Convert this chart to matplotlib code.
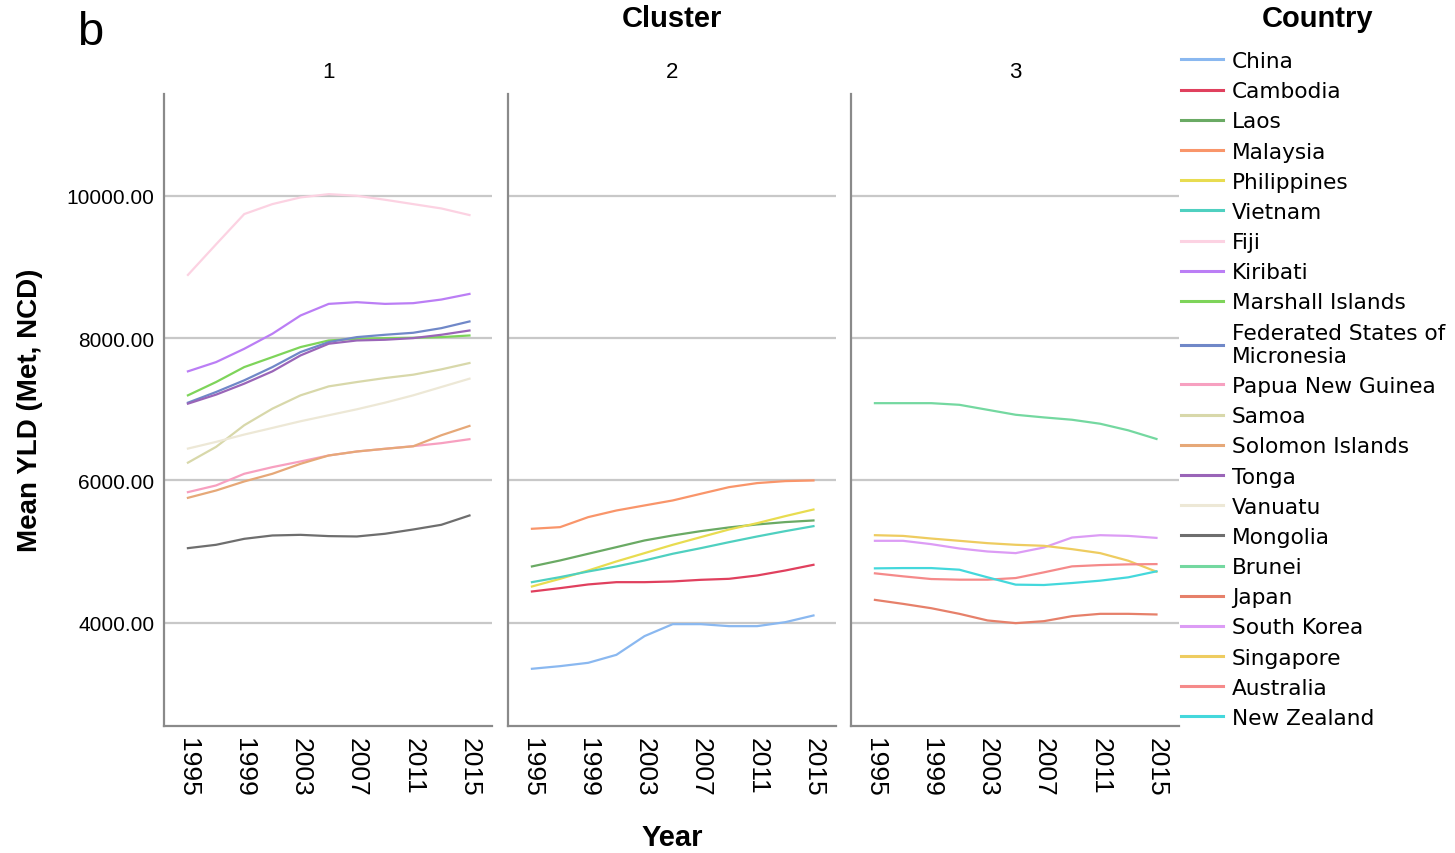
import numpy as np
import matplotlib.pyplot as plt
from matplotlib.lines import Line2D

plt.rcParams['font.family'] = ['Liberation Sans', 'DejaVu Sans']

years = [1995, 1997, 1999, 2001, 2003, 2005, 2007, 2009, 2011, 2013, 2015]

# cluster 1
fiji = [8888, 9318, 9743, 9883, 9977, 10023, 10000, 9944, 9883, 9822, 9729]
kiribati = [7533, 7663, 7850, 8061, 8318, 8481, 8505, 8481, 8491, 8542, 8621]
marshall = [7196, 7383, 7593, 7733, 7874, 7967, 7991, 8000, 8005, 8014, 8037]
micronesia = [7093, 7243, 7407, 7593, 7804, 7944, 8014, 8047, 8075, 8140, 8234]
tonga = [7079, 7206, 7360, 7533, 7757, 7921, 7967, 7977, 8000, 8047, 8107]
samoa = [6250, 6472, 6776, 7009, 7196, 7322, 7383, 7439, 7486, 7561, 7650]
vanuatu = [6448, 6542, 6645, 6738, 6832, 6916, 7000, 7093, 7196, 7313, 7430]
png = [5836, 5930, 6094, 6187, 6267, 6351, 6407, 6445, 6482, 6524, 6580]
solomon = [5756, 5859, 5986, 6094, 6234, 6351, 6407, 6445, 6480, 6635, 6766]
mongolia = [5049, 5096, 5180, 5227, 5236, 5218, 5213, 5251, 5311, 5377, 5508]

# cluster 2
china = [3354, 3391, 3438, 3550, 3813, 3981, 3981, 3953, 3953, 4009, 4103]
cambodia = [4440, 4487, 4539, 4571, 4571, 4581, 4604, 4618, 4665, 4735, 4815]
laos = [4792, 4876, 4970, 5063, 5157, 5227, 5288, 5340, 5382, 5415, 5438]
malaysia = [5321, 5344, 5485, 5578, 5649, 5719, 5813, 5906, 5963, 5991, 6000]
philippines = [4510, 4618, 4735, 4862, 4979, 5096, 5204, 5311, 5400, 5499, 5592]
vietnam = [4571, 4642, 4721, 4792, 4876, 4970, 5049, 5133, 5213, 5288, 5358]

# cluster 3
brunei = [7086, 7086, 7086, 7063, 6993, 6923, 6886, 6853, 6797, 6704, 6583]
japan = [4322, 4266, 4205, 4126, 4033, 3995, 4023, 4093, 4126, 4126, 4117]
south_korea = [5152, 5152, 5105, 5044, 5002, 4979, 5058, 5198, 5231, 5221, 5193]
singapore = [5231, 5221, 5184, 5152, 5119, 5096, 5082, 5035, 4979, 4872, 4718]
australia = [4695, 4653, 4615, 4606, 4606, 4629, 4709, 4793, 4811, 4821, 4825]
new_zealand = [4765, 4769, 4769, 4746, 4639, 4536, 4531, 4559, 4592, 4639, 4723]

# legend order: (name, values, cluster)
countries = [
    ('China', china, 2),
    ('Cambodia', cambodia, 2),
    ('Laos', laos, 2),
    ('Malaysia', malaysia, 2),
    ('Philippines', philippines, 2),
    ('Vietnam', vietnam, 2),
    ('Fiji', fiji, 1),
    ('Kiribati', kiribati, 1),
    ('Marshall Islands', marshall, 1),
    ('Federated States of\nMicronesia', micronesia, 1),
    ('Papua New Guinea', png, 1),
    ('Samoa', samoa, 1),
    ('Solomon Islands', solomon, 1),
    ('Tonga', tonga, 1),
    ('Vanuatu', vanuatu, 1),
    ('Mongolia', mongolia, 1),
    ('Brunei', brunei, 3),
    ('Japan', japan, 3),
    ('South Korea', south_korea, 3),
    ('Singapore', singapore, 3),
    ('Australia', australia, 3),
    ('New Zealand', new_zealand, 3),
]

colors = ['#8ab8f0', '#e0405e', '#6aaa64', '#f9956a', '#e8dc50', '#4fd0c0',
          '#fcd2e2', '#bb7ef5', '#7ed45a', '#7088c8', '#f7a0c0', '#d8d8aa',
          '#e6a878', '#9a65b8', '#ede8d6', '#6e6e6e', '#74d8a0', '#e6806a',
          '#dc9cf5', '#eecc60', '#f58a8a', '#44d8dc']

fig = plt.figure(figsize=(14.55, 8.54), dpi=100)
W, H = 1455.0, 854.0

panel_left = [164, 508, 851]
axes = []
for i, left in enumerate(panel_left):
    ax = fig.add_axes([left / W, 1 - 727 / H, 328 / W, 632 / H])
    ax.set_xlim(1993.3, 2016.6)
    ax.set_ylim(2550, 11430)
    ax.set_yticks([4000, 6000, 8000, 10000])
    ax.yaxis.grid(True, color='#c8c8c8', lw=1.6)
    ax.set_axisbelow(True)
    for s in ['top', 'right']:
        ax.spines[s].set_visible(False)
    for s in ['left', 'bottom']:
        ax.spines[s].set_color('#8a8a8a')
        ax.spines[s].set_linewidth(1.6)
    ax.set_xticks([1995, 1999, 2003, 2007, 2011, 2015])
    ax.set_xticklabels(['1995', '1999', '2003', '2007', '2011', '2015'],
                       rotation=-90, fontsize=19)
    ax.tick_params(axis='both', length=0)
    ax.tick_params(axis='x', pad=8)
    ax.tick_params(axis='y', pad=7, labelsize=15)
    if i == 0:
        ax.set_yticklabels(['%.2f' % v for v in [4000, 6000, 8000, 10000]])
    else:
        ax.set_yticklabels([])
    axes.append(ax)

handles = []
for (name, vals, cl), c in zip(countries, colors):
    axes[cl - 1].plot(years, vals, color=c, lw=1.6)
    handles.append(Line2D([], [], color=c, lw=2.2))

# panel strip labels and titles
for i, left in enumerate(panel_left):
    fig.text((left + 164) / W, 1 - 72 / H, str(i + 1), ha='center', va='center', fontsize=16)

fig.text(672 / W, 1 - 19 / H, 'Cluster', ha='center', va='center', fontsize=21, fontweight='bold')
fig.text(1318 / W, 1 - 19 / H, 'Country', ha='center', va='center', fontsize=21, fontweight='bold')
fig.text(672 / W, 1 - 838 / H, 'Year', ha='center', va='center', fontsize=21, fontweight='bold')
fig.text(30 / W, 1 - 410 / H, 'Mean YLD (Met, NCD)', ha='center', va='center',
         rotation=90, fontsize=20, fontweight='bold')
fig.text(90 / W, 1 - 33 / H, 'b', ha='center', va='center', fontsize=34)

fig.legend(handles, [c[0] for c in countries], loc='upper left',
           bbox_to_anchor=(1181 / W, 1 - 52 / H), frameon=False,
           prop={'family': 'DejaVu Sans', 'size': 15.6},
           handlelength=1.95, handletextpad=0.4, labelspacing=0.47,
           borderpad=0, borderaxespad=0)

fig.savefig('out.png', dpi=100)
